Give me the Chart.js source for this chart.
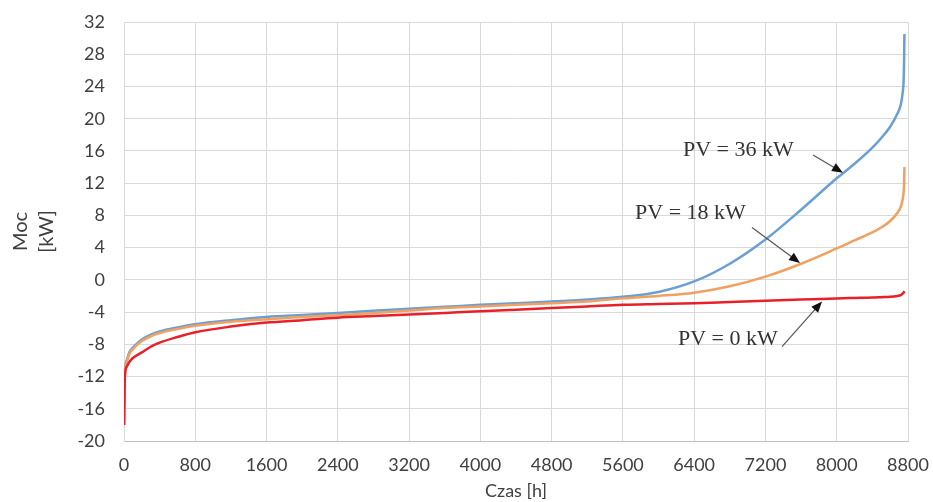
<!DOCTYPE html>
<html>
<head>
<meta charset="utf-8">
<script src="https://cdn.jsdelivr.net/npm/chart.js@4.4.0/dist/chart.umd.min.js"></script>
<style>
  html, body { margin: 0; padding: 0; background: #ffffff; }
  #wrap { width: 933px; height: 502px; }
</style>
</head>
<body>
<div id="wrap"><canvas id="chart" width="933" height="502"></canvas></div>
<script>
// hours of the year (sorted duration curve)
const HOURS = [0, 10, 30, 60, 100, 200, 300, 400, 600, 800, 1200, 1600, 2000, 2400, 2800, 3200, 3600, 4000, 4400, 4800,
  5200, 5600, 6000, 6400, 6800, 7200, 7600, 8000, 8200, 8400, 8500, 8600, 8680, 8720, 8740, 8750, 8755, 8760]

// power [kW] for each PV size
const PV0 = [-18, -12, -10.8, -10.2, -9.7, -9.0, -8.3, -7.8, -7.1, -6.5, -5.8, -5.3, -5.0, -4.7, -4.5, -4.3, -4.1, -3.9, -3.7, -3.5,
  -3.3, -3.1, -3.0, -2.9, -2.75, -2.6, -2.45, -2.3, -2.25, -2.2, -2.15, -2.1, -2.0, -1.9, -1.7, -1.6, -1.5, -1.4]
const PV18 = [-18, -11.7, -10.2, -9.2, -8.6, -7.6, -7.0, -6.6, -6.1, -5.7, -5.2, -4.9, -4.6, -4.4, -4.1, -3.8, -3.5, -3.3, -3.1, -2.9,
  -2.7, -2.3, -2.0, -1.6, -0.8, 0.4, 2.0, 3.9, 4.9, 5.9, 6.5, 7.3, 8.3, 9.1, 10.0, 10.8, 11.6, 14.0]
const PV36 = [-18, -11.5, -10, -9, -8.4, -7.4, -6.8, -6.4, -5.9, -5.5, -5.0, -4.6, -4.35, -4.1, -3.85, -3.6, -3.35, -3.1, -2.9, -2.7,
  -2.45, -2.1, -1.5, -0.2, 2.0, 5.0, 8.7, 12.6, 14.4, 16.4, 17.6, 19.0, 20.6, 21.8, 23.2, 24.5, 26.5, 30.5]

const X_TICKS = [0, 800, 1600, 2400, 3200, 4000, 4800, 5600, 6400, 7200, 8000, 8800]
const Y_TICKS = [-20, -16, -12, -8, -4, 0, 4, 8, 12, 16, 20, 24, 28, 32]

// labels with arrows: text anchor and arrow start/tip in data units
const LABELS = ['PV = 36 kW', 'PV = 18 kW', 'PV = 0 kW']
const LABEL_AT = [[6274, 16.1], [5736, 8.3], [6218, -7.4]]
const ARROW_FROM = [[7734, 15.5], [7049, 6.5], [7386, -8.3]]
const ARROW_TO = [[8070, 13.3], [7588, 2.1], [7835, -2.7]]

const toPoints = (ys) => HOURS.map((h, i) => ({ x: h, y: ys[i] }))

const axisFont = { family: 'Lato', size: 18 }
const textColor = '#404040'

// draws the "PV = .. kW" notes and their arrows
const notesPlugin = {
  id: 'notes',
  afterDatasetsDraw(chart) {
    const { ctx, scales: { x, y } } = chart
    ctx.save()
    ctx.font = '22px "Liberation Serif"'
    ctx.textBaseline = 'middle'
    ctx.textAlign = 'left'
    LABELS.forEach((txt, i) => {
      ctx.fillStyle = '#333333'
      ctx.fillText(txt, x.getPixelForValue(LABEL_AT[i][0]), y.getPixelForValue(LABEL_AT[i][1]))

      const x1 = x.getPixelForValue(ARROW_FROM[i][0]), y1 = y.getPixelForValue(ARROW_FROM[i][1])
      const x2 = x.getPixelForValue(ARROW_TO[i][0]), y2 = y.getPixelForValue(ARROW_TO[i][1])
      const ang = Math.atan2(y2 - y1, x2 - x1)
      const head = 11
      ctx.strokeStyle = '#555555'
      ctx.lineWidth = 1.2
      ctx.beginPath()
      ctx.moveTo(x1, y1)
      ctx.lineTo(x2 - Math.cos(ang) * head * 0.8, y2 - Math.sin(ang) * head * 0.8)
      ctx.stroke()
      ctx.fillStyle = '#111111'
      ctx.beginPath()
      ctx.moveTo(x2, y2)
      ctx.lineTo(x2 - head * Math.cos(ang) + 4.5 * Math.sin(ang), y2 - head * Math.sin(ang) - 4.5 * Math.cos(ang))
      ctx.lineTo(x2 - head * Math.cos(ang) - 4.5 * Math.sin(ang), y2 - head * Math.sin(ang) + 4.5 * Math.cos(ang))
      ctx.closePath()
      ctx.fill()
    })
    ctx.restore()
  }
}

const lineStyle = {
  borderWidth: 2.5,
  pointRadius: 0,
  fill: false,
  cubicInterpolationMode: 'monotone'
}

new Chart(document.getElementById('chart'), {
  type: 'line',
  data: {
    datasets: [
      { label: 'PV = 0 kW', data: toPoints(PV0), borderColor: '#e8202a', ...lineStyle },
      { label: 'PV = 18 kW', data: toPoints(PV18), borderColor: '#f0a060', ...lineStyle },
      { label: 'PV = 36 kW', data: toPoints(PV36), borderColor: '#6a9fd4', ...lineStyle }
    ]
  },
  options: {
    responsive: false,
    animation: false,
    layout: { padding: { top: 22, right: 25, left: 0, bottom: 0 } },
    plugins: {
      legend: { display: false },
      tooltip: { enabled: false }
    },
    scales: {
      x: {
        type: 'linear',
        min: 0,
        max: 8800,
        afterBuildTicks: (scale) => { scale.ticks = X_TICKS.map(v => ({ value: v })) },
        afterFit: (scale) => {
          scale.height = 61
          scale.paddingLeft = 0
          scale.paddingRight = 0
        },
        ticks: { font: axisFont, color: textColor, padding: 13, maxRotation: 0, callback: (v) => String(v) },
        grid: { color: '#d9d9d9', drawTicks: false },
        border: { color: '#bfbfbf' },
        title: { display: true, text: 'Czas [h]', font: axisFont, color: textColor, padding: { top: 0, bottom: 0 } }
      },
      y: {
        min: -20,
        max: 32,
        afterBuildTicks: (scale) => { scale.ticks = Y_TICKS.map(v => ({ value: v })) },
        afterFit: (scale) => {
          scale.width = 124
          scale.paddingTop = 0
          scale.paddingBottom = 0
        },
        ticks: { font: axisFont, color: textColor, padding: 19 },
        grid: { color: '#d9d9d9', drawTicks: false },
        border: { color: '#d9d9d9' },
        title: {
          display: true,
          text: ['Moc', '[kW]'],
          font: { family: 'Lato', size: 20, lineHeight: 1.3 },
          color: textColor,
          padding: { top: 8, bottom: 0 }
        }
      }
    }
  },
  plugins: [notesPlugin]
})
</script>
</body>
</html>
